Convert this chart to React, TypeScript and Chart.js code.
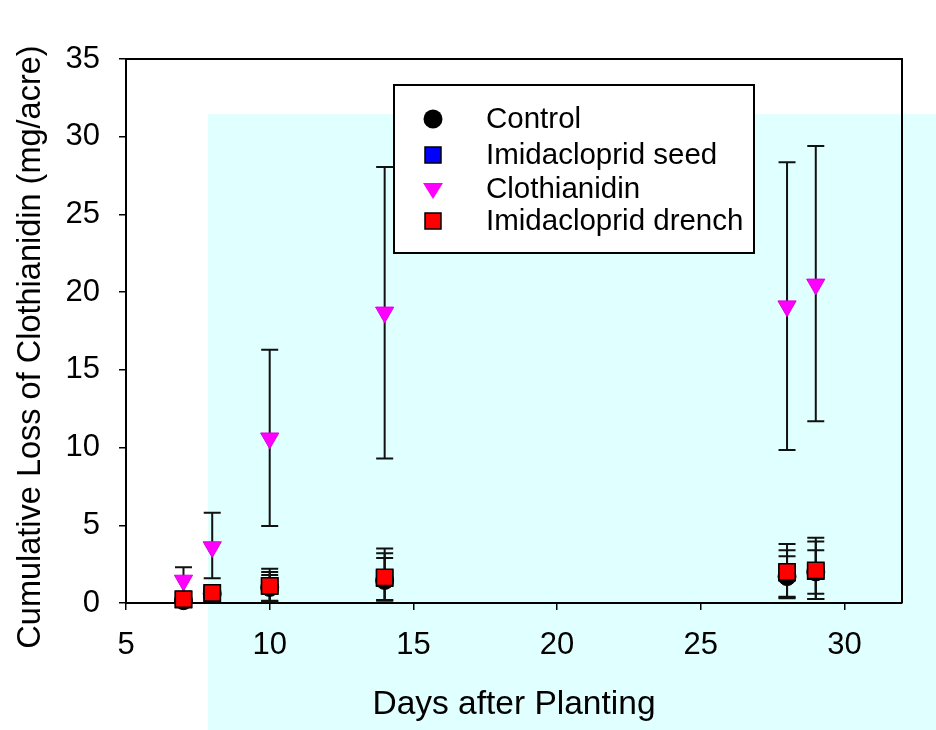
import React, { useEffect, useRef } from 'react';
import { Chart, registerables } from 'chart.js';

Chart.register(...registerables);

// ---- data ----
const days = [7, 8, 10, 14, 28, 29];

const controlMean = [0.15, 0.6, 1.0, 1.45, 1.7, 2.0];
const controlLow = [0.05, 0.3, 0.1, 0.15, 0.35, 0.6];
const controlHigh = [0.3, 0.9, 1.8, 2.9, 3.0, 3.4];

const seedMean = [0.22, 0.62, 1.1, 1.6, 1.95, 2.05];
const seedLow = [0.05, 0.3, 0.15, 0.2, 0.4, 0.25];
const seedHigh = [0.35, 0.95, 2.0, 3.2, 3.4, 3.95];

const clothMean = [1.45, 3.6, 10.6, 18.7, 19.1, 20.5];
const clothLow = [0.6, 1.6, 4.95, 9.3, 9.85, 11.7];
const clothHigh = [2.3, 5.8, 16.3, 28.05, 28.35, 29.4];

const drenchMean = [0.25, 0.65, 1.1, 1.65, 2.0, 2.1];
const drenchLow = [0.1, 0.35, 0.1, 0.2, 0.3, 0.25];
const drenchHigh = [0.4, 1.0, 2.2, 3.5, 3.8, 4.2];

const seriesNames = ['Control', 'Imidacloprid seed', 'Clothianidin', 'Imidacloprid drench'];
const xTickValues = [5, 10, 15, 20, 25, 30];
const xTitle = 'Days after Planting';
const yTitle = 'Cumulative Loss of Clothianidin (mg/acre)';

// shaded background region start (data coords)
const shadeStartX = 7.85;
const shadeTopY = 31.45;

const FONT = "'Liberation Sans', Arial, Helvetica, sans-serif";

const toPts = (ys: number[]) => days.map((d, i) => ({ x: d, y: ys[i] }));

export default function App() {
  const ref = useRef<HTMLCanvasElement>(null);

  useEffect(() => {
    if (!ref.current) return;

    const bgPlugin = {
      id: 'bgRect',
      beforeDraw(chart: any) {
        const { ctx } = chart;
        const x = chart.scales.x;
        const y = chart.scales.y;
        ctx.save();
        ctx.fillStyle = '#ffffff';
        ctx.fillRect(0, 0, chart.width, chart.height);
        const px = x.getPixelForValue(shadeStartX);
        const py = y.getPixelForValue(shadeTopY);
        ctx.fillStyle = '#E0FFFF';
        ctx.fillRect(px, py, chart.width - px, chart.height - py);
        ctx.restore();
      },
    };

    const errPlugin = {
      id: 'errBars',
      beforeDatasetsDraw(chart: any) {
        const { ctx, chartArea } = chart;
        const x = chart.scales.x;
        const y = chart.scales.y;
        ctx.save();
        // frame top/right
        ctx.strokeStyle = '#000';
        ctx.lineWidth = 2;
        ctx.beginPath();
        ctx.moveTo(chartArea.left, chartArea.top);
        ctx.lineTo(chartArea.right, chartArea.top);
        ctx.lineTo(chartArea.right, chartArea.bottom);
        ctx.stroke();
        // error bars
        ctx.strokeStyle = '#111';
        ctx.lineWidth = 2;
        const cap = 8.5;
        chart.data.datasets.forEach((ds: any) => {
          ds.data.forEach((p: any, i: number) => {
            const cx = x.getPixelForValue(p.x);
            const yl = y.getPixelForValue(ds.errLow[i]);
            const yh = y.getPixelForValue(ds.errHigh[i]);
            ctx.beginPath();
            ctx.moveTo(cx, yl);
            ctx.lineTo(cx, yh);
            ctx.moveTo(cx - cap, yl);
            ctx.lineTo(cx + cap, yl);
            ctx.moveTo(cx - cap, yh);
            ctx.lineTo(cx + cap, yh);
            ctx.stroke();
          });
        });
        ctx.restore();
      },
    };

    const titleLegendPlugin = {
      id: 'titleLegend',
      afterDraw(chart: any) {
        const { ctx, chartArea } = chart;
        ctx.save();
        // y axis title
        ctx.fillStyle = '#000';
        ctx.font = `32.5px ${FONT}`;
        ctx.textAlign = 'center';
        ctx.textBaseline = 'middle';
        ctx.translate(31, (chartArea.top + chartArea.bottom) / 2 + 16);
        ctx.rotate(-Math.PI / 2);
        ctx.fillText(yTitle, 0, 0);
        ctx.restore();

        // legend
        ctx.save();
        const bx = 394, by = 85, bw = 360, bh = 168;
        ctx.fillStyle = '#fff';
        ctx.fillRect(bx, by, bw, bh);
        ctx.strokeStyle = '#000';
        ctx.lineWidth = 2;
        ctx.strokeRect(bx, by, bw, bh);
        const mx = 433;
        const tx = 486;
        const rows = [119, 155, 189, 221];
        ctx.font = `29.5px ${FONT}`;
        ctx.textAlign = 'left';
        ctx.textBaseline = 'middle';
        rows.forEach((ry, i) => {
          ctx.lineWidth = 1.5;
          if (i === 0) {
            ctx.fillStyle = '#000';
            ctx.beginPath();
            ctx.arc(mx, ry, 9.5, 0, Math.PI * 2);
            ctx.fill();
          } else if (i === 1 || i === 3) {
            ctx.fillStyle = i === 1 ? '#0000FF' : '#FF0000';
            ctx.fillRect(mx - 8, ry - 8, 16, 16);
            ctx.strokeStyle = '#000';
            ctx.strokeRect(mx - 8, ry - 8, 16, 16);
          } else {
            ctx.fillStyle = '#FF00FF';
            ctx.beginPath();
            ctx.moveTo(mx - 10, ry - 6);
            ctx.lineTo(mx + 10, ry - 6);
            ctx.lineTo(mx, ry + 10);
            ctx.closePath();
            ctx.fill();
          }
          ctx.fillStyle = '#000';
          ctx.fillText(seriesNames[i], tx, ry + 1);
        });
        ctx.restore();
      },
    };

    const chart = new Chart(ref.current, {
      type: 'scatter',
      data: {
        datasets: [
          {
            label: seriesNames[0],
            data: toPts(controlMean),
            errLow: controlLow,
            errHigh: controlHigh,
            pointStyle: 'circle',
            pointRadius: 9,
            backgroundColor: '#000',
            borderColor: '#000',
            borderWidth: 1,
            order: 4,
            clip: false,
          } as any,
          {
            label: seriesNames[1],
            data: toPts(seedMean),
            errLow: seedLow,
            errHigh: seedHigh,
            pointStyle: 'rect',
            pointRadius: 11.5,
            backgroundColor: '#0000FF',
            borderColor: '#000',
            borderWidth: 1.5,
            order: 3,
            clip: false,
          } as any,
          {
            label: seriesNames[2],
            data: toPts(clothMean),
            errLow: clothLow,
            errHigh: clothHigh,
            pointStyle: 'triangle',
            rotation: 180,
            pointRotation: 180,
            pointRadius: 10.5,
            backgroundColor: '#FF00FF',
            borderColor: '#E000E0',
            borderWidth: 1,
            order: 2,
            clip: false,
          } as any,
          {
            label: seriesNames[3],
            data: toPts(drenchMean),
            errLow: drenchLow,
            errHigh: drenchHigh,
            pointStyle: 'rect',
            pointRadius: 11.5,
            backgroundColor: '#FF0000',
            borderColor: '#000',
            borderWidth: 1.5,
            order: 1,
            clip: false,
          } as any,
        ],
      },
      options: {
        responsive: false,
        animation: false,
        devicePixelRatio: 1,
        layout: { padding: { top: 59, right: 34, left: 0, bottom: 0 } },
        plugins: {
          legend: { display: false },
          tooltip: { enabled: false },
        },
        scales: {
          x: {
            type: 'linear',
            min: 5,
            max: 32,
            afterBuildTicks: (scale: any) => {
              scale.ticks = xTickValues.map((v) => ({ value: v }));
            },
            afterFit: (scale: any) => {
              scale.height = 127;
            },
            ticks: {
              color: '#000',
              font: { family: FONT, size: 31 },
              padding: 17,
              maxRotation: 0,
            },
            grid: {
              drawOnChartArea: false,
              drawTicks: true,
              tickLength: 7,
              color: '#000',
              lineWidth: 1.5,
            },
            border: { display: true, color: '#000', width: 2 },
            title: {
              display: true,
              text: xTitle,
              color: '#000',
              font: { family: FONT, size: 33.5 },
              padding: { top: 0, bottom: 5 },
            },
          },
          y: {
            type: 'linear',
            min: 0,
            max: 35,
            afterFit: (scale: any) => {
              scale.width = 126;
            },
            ticks: {
              stepSize: 5,
              color: '#000',
              font: { family: FONT, size: 31 },
              padding: 19,
            },
            grid: {
              drawOnChartArea: false,
              drawTicks: true,
              tickLength: 7,
              color: '#000',
              lineWidth: 1.5,
            },
            border: { display: true, color: '#000', width: 2 },
          },
        },
      } as any,
      plugins: [bgPlugin, errPlugin, titleLegendPlugin],
    });

    return () => chart.destroy();
  }, []);

  return (
    <div style={{ position: 'fixed', left: 0, top: 0, width: 936, height: 730, background: '#fff' }}>
      <canvas ref={ref} width={936} height={730} style={{ display: 'block', width: 936, height: 730 }} />
    </div>
  );
}
